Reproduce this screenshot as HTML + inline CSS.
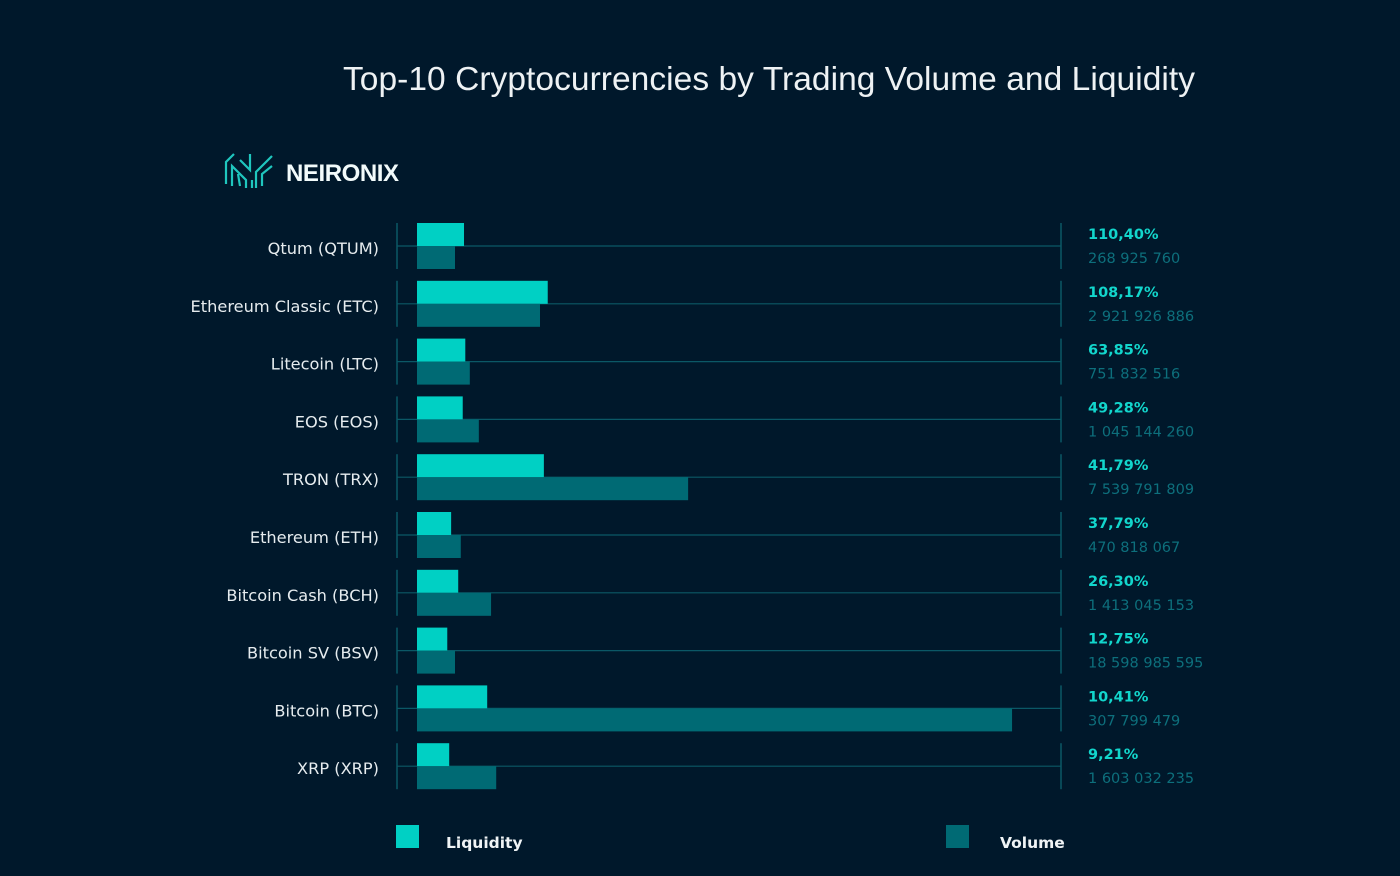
<!DOCTYPE html>
<html><head><meta charset="utf-8"><style>
body{margin:0;width:1400px;height:876px;background:#00182b;overflow:hidden;font-family:"DejaVu Sans","Liberation Sans",sans-serif;}
svg{display:block}
</style></head><body>
<svg id="chart" width="1400" height="876">
<text x="769" y="90" text-anchor="middle" fill="#eef2f4" font-size="33.5" textLength="852" font-family="Liberation Sans, sans-serif">Top-10 Cryptocurrencies by Trading Volume and Liquidity</text>
<g stroke="#1fc6be" stroke-width="2.2" fill="none">
<path d="M226 184 L226 162 L234 154 M232 186 L232 166 L246 180 L246 188 M240 160 L250 170 L250 154 M256 188 L256 172 L266 162 L272 156 M262 186 L262 174 L272 166 M238 174 L240 186 M252 180 L252 188"/>
</g>
<text x="286" y="181" fill="#f2fbfb" font-size="24" font-weight="bold" textLength="113" font-family="Liberation Sans, sans-serif">NEIRONIX</text>
<g id="rows"></g>
<rect x="396" y="825" width="23" height="23" fill="#00d0c4"/>
<text x="446" y="848" fill="#f0f4f6" font-size="15.5" font-weight="bold">Liquidity</text>
<rect x="946" y="825" width="23" height="23" fill="#006a74"/>
<text x="1000" y="848" fill="#f0f4f6" font-size="15.5" font-weight="bold">Volume</text>
</svg>
<script>
const categories=["Qtum (QTUM)","Ethereum Classic (ETC)","Litecoin (LTC)","EOS (EOS)","TRON (TRX)","Ethereum (ETH)","Bitcoin Cash (BCH)","Bitcoin SV (BSV)","Bitcoin (BTC)","XRP (XRP)"];
const liquidityLabels=["110,40%","108,17%","63,85%","49,28%","41,79%","37,79%","26,30%","12,75%","10,41%","9,21%"];
const volumeLabels=["268 925 760","2 921 926 886","751 832 516","1 045 144 260","7 539 791 809","470 818 067","1 413 045 153","18 598 985 595","307 799 479","1 603 032 235"];
const liquidityBar=[7.3,20.3,7.5,7.1,19.7,5.3,6.4,4.7,10.9,5.0];
const volumeBar=[5.9,19.1,8.2,9.6,42.1,6.8,11.5,5.9,92.4,12.3];
const NS="http://www.w3.org/2000/svg";
const x0=417,xw=644;
function xScale(v){return v/100*xw;}
function yCenter(i){return 246+i*57.8;}
const g=document.getElementById('rows');
function mk(tag,attrs,txt){const e=document.createElementNS(NS,tag);for(const k in attrs)e.setAttribute(k,attrs[k]);if(txt!==undefined)e.textContent=txt;g.appendChild(e);return e;}
categories.forEach((c,i)=>{
 const y=yCenter(i);
 let e;
 e=mk('line',{x1:397,x2:1061,y1:y,y2:y,stroke:'#0b5866','stroke-width':1.2});
 
 
 e=mk('line',{x1:397,x2:397,y1:y-23,y2:y+23,stroke:'#0b5866','stroke-width':1.5});
 
 
 e=mk('line',{x1:1061,x2:1061,y1:y-23,y2:y+23,stroke:'#0b5866','stroke-width':1.5});
 
 
 e=mk('rect',{x:x0,y:y-23,width:xScale(liquidityBar[i]),height:23,fill:'#00d0c4'});
 
 
 e=mk('rect',{x:x0,y:y,width:xScale(volumeBar[i]),height:23,fill:'#006a74'});
 
 
 e=mk('text',{x:379,y:y+8,'text-anchor':'end',fill:'#e6ecef','font-size':16.2},c);
 
 
 e=mk('text',{x:1088,y:y-7,fill:'#12d6cc','font-size':14.5,'font-weight':'bold'},liquidityLabels[i]);
 
 
 e=mk('text',{x:1088,y:y+17,fill:'#0d6f7c','font-size':14.5},volumeLabels[i]);
 
 
});
</script>
</body></html>
